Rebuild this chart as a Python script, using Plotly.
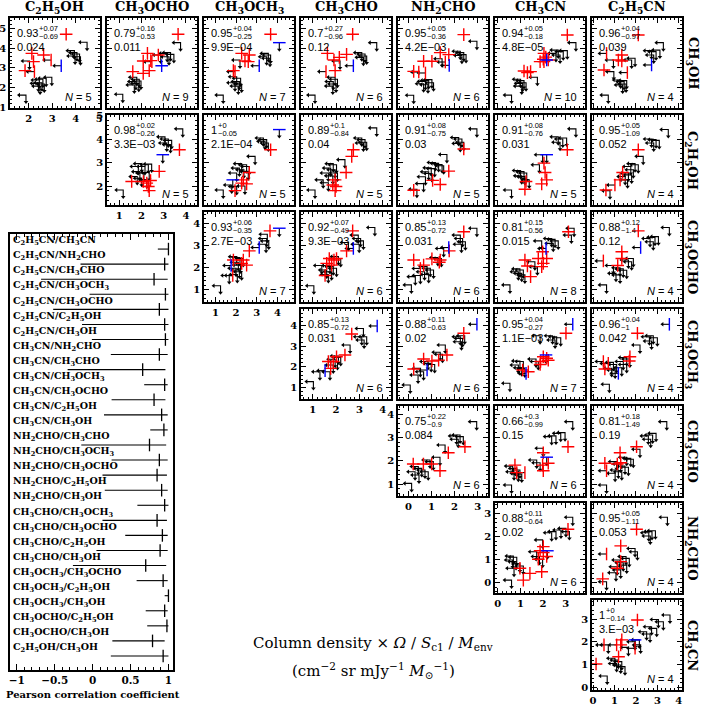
import plotly.graph_objects as go

W, H = 702, 706

# ---------------- species / axes ----------------
ROWS = ['CH3OH', 'C2H5OH', 'CH3OCHO', 'CH3OCH3', 'CH3CHO', 'NH2CHO', 'CH3CN']
COLS = ['C2H5OH', 'CH3OCHO', 'CH3OCH3', 'CH3CHO', 'NH2CHO', 'CH3CN', 'C2H5CN']
LABEL = {
    'CH3OH': 'CH<sub>3</sub>OH', 'C2H5OH': 'C<sub>2</sub>H<sub>5</sub>OH',
    'CH3OCHO': 'CH<sub>3</sub>OCHO', 'CH3OCH3': 'CH<sub>3</sub>OCH<sub>3</sub>',
    'CH3CHO': 'CH<sub>3</sub>CHO', 'NH2CHO': 'NH<sub>2</sub>CHO',
    'CH3CN': 'CH<sub>3</sub>CN', 'C2H5CN': 'C<sub>2</sub>H<sub>5</sub>CN'}
AX_RANGE = {
    'CH3OH': [0.95, 5.55], 'C2H5OH': [1.2, 5.03], 'CH3OCHO': [0.45, 4.5],
    'CH3OCH3': [0.45, 4.8], 'CH3CHO': [0.5, 4.35], 'NH2CHO': [-0.45, 3.45],
    'CH3CN': [-0.12, 3.85], 'C2H5CN': [-0.05, 4.15]}

# ---------------- correlation results (x species / y species) ----------------
PAIR_X = ['C2H5CN'] * 7 + ['CH3CN'] * 6 + ['NH2CHO'] * 5 + ['CH3CHO'] * 4 + ['CH3OCH3'] * 3 + ['CH3OCHO'] * 2 + ['C2H5OH']
PAIR_Y = ['CH3CN', 'NH2CHO', 'CH3CHO', 'CH3OCH3', 'CH3OCHO', 'C2H5OH', 'CH3OH',
          'NH2CHO', 'CH3CHO', 'CH3OCH3', 'CH3OCHO', 'C2H5OH', 'CH3OH',
          'CH3CHO', 'CH3OCH3', 'CH3OCHO', 'C2H5OH', 'CH3OH',
          'CH3OCH3', 'CH3OCHO', 'C2H5OH', 'CH3OH',
          'CH3OCHO', 'C2H5OH', 'CH3OH',
          'C2H5OH', 'CH3OH',
          'CH3OH']
R_VAL = [1, 0.95, 0.81, 0.96, 0.88, 0.95, 0.96,
         0.88, 0.66, 0.95, 0.81, 0.91, 0.94,
         0.75, 0.88, 0.85, 0.91, 0.95,
         0.85, 0.92, 0.89, 0.7,
         0.93, 1, 0.95,
         0.98, 0.79,
         0.93]
R_PLUS = [0, 0.05, 0.18, 0.04, 0.12, 0.05, 0.04,
          0.11, 0.3, 0.04, 0.15, 0.08, 0.05,
          0.22, 0.11, 0.13, 0.08, 0.05,
          0.13, 0.07, 0.1, 0.27,
          0.06, 0, 0.04,
          0.02, 0.16,
          0.07]
R_MINUS = [0.14, 1.11, 1.49, 1, 1.4, 1.09, 0.97,
           0.64, 0.99, 0.27, 0.56, 0.76, 0.18,
           0.9, 0.63, 0.72, 0.75, 0.36,
           0.72, 0.49, 0.84, 0.96,
           0.35, 0.05, 0.25,
           0.26, 0.53,
           0.69]
P_TXT = ['3.E\u221203', '0.053', '0.19', '0.042', '0.12', '0.052', '0.039',
         '0.02', '0.15', '1.1E\u221203', '0.015', '0.031', '4.8E\u221205',
         '0.084', '0.02', '0.031', '0.03', '4.2E\u221203',
         '0.031', '9.3E\u221203', '0.04', '0.12',
         '2.7E\u221203', '2.1E\u221204', '9.9E\u221204',
         '3.3E\u221203', '0.011',
         '0.024']
N_SRC = [4, 4, 4, 4, 4, 4, 4,
         6, 6, 7, 8, 5, 10,
         6, 6, 6, 5, 6,
         6, 6, 5, 6,
         7, 5, 7,
         5, 9,
         5]

# ---------------- scatter points per panel: (x, y, kind) ----------------
# kind: 'ul' both upper limits, 'r'/'b' detections, 'rx'/'bx' x upper limit, 'ry'/'by' y upper limit
PTS_C2H5OH_CH3OH = [(3.59, 4.72, 'r'), (2.13, 3.74, 'r'), (2.2, 3.32, 'r'), (2.63, 3.66, 'r'), (1.84, 2.86, 'r'),
    (2.24, 2.81, 'rx'), (2.95, 3.4, 'rx'), (3.38, 3.11, 'bx'), (4.48, 4.31, 'ul'), (3.94, 3.88, 'ul'), (4.05, 3.78, 'ul'),
    (4.16, 3.71, 'ul'), (3.97, 3.61, 'ul'), (4.2, 3.57, 'ul'), (2.03, 3.35, 'ul'), (2.98, 2.52, 'ul'), (2.45, 2.38, 'ul'),
    (2.6, 2.42, 'ul'), (2.74, 2.47, 'ul'), (2.41, 2.21, 'ul'), (2.56, 2.24, 'ul'), (2.66, 2.18, 'ul'), (2.48, 2.07, 'ul'),
    (1.88, 1.61, 'ul')]
PTS_CH3OCHO_CH3OH = [(3.65, 4.72, 'r'), (2.27, 3.74, 'r'), (2.76, 3.66, 'r'), (2.08, 3.35, 'r'), (2.42, 3.37, 'r'),
    (1.61, 2.81, 'r'), (2.08, 2.72, 'r'), (2.35, 2.86, 'r'), (2.47, 3.32, 'rx'), (2.91, 3.11, 'b'), (3.76, 4.29, 'ul'),
    (3.16, 3.74, 'ul'), (3.31, 3.78, 'ul'), (3.46, 3.69, 'ul'), (3.24, 3.57, 'ul'), (2.87, 3.66, 'ul'), (1.79, 2.52, 'ul'),
    (1.9, 2.42, 'ul'), (1.75, 2.3, 'ul'), (1.88, 2.21, 'ul'), (1.68, 2.13, 'ul'), (1.98, 2.33, 'ul'), (1.16, 1.65, 'ul')]
PTS_CH3OCH3_CH3OH = [(3.67, 4.72, 'r'), (4.09, 4.29, 'by'), (2.27, 3.74, 'r'), (2.64, 3.66, 'r'), (2.43, 3.35, 'r'),
    (2.59, 3.32, 'r'), (1.87, 2.86, 'r'), (1.95, 2.81, 'rx'), (3.12, 3.11, 'bx'), (3.56, 3.74, 'ul'), (3.67, 3.66, 'ul'),
    (3.48, 3.57, 'ul'), (3.64, 3.49, 'ul'), (2.19, 3.4, 'ul'), (2.03, 2.55, 'ul'), (2.22, 2.47, 'ul'), (2.16, 2.3, 'ul'),
    (1.95, 2.24, 'ul'), (2.27, 2.18, 'ul'), (2.11, 2.07, 'ul'), (1.38, 1.61, 'ul')]
PTS_CH3CHO_CH3OH = [(2.71, 4.72, 'r'), (3.74, 4.29, 'ul'), (1.63, 3.74, 'r'), (2.45, 3.69, 'r'), (2.14, 3.54, 'r'),
    (1.91, 3.4, 'r'), (1.96, 2.86, 'r'), (1.57, 2.81, 'rx'), (2.74, 3.11, 'bx'), (3.1, 3.78, 'ul'), (3.24, 3.71, 'ul'),
    (3.17, 3.54, 'ul'), (3.31, 3.61, 'ul'), (2.17, 3.35, 'ul'), (1.96, 2.52, 'ul'), (2.06, 2.42, 'ul'), (1.88, 2.3, 'ul'),
    (2.0, 2.18, 'ul'), (1.86, 2.07, 'ul'), (1.1, 1.61, 'ul')]
PTS_NH2CHO_CH3OH = [(2.4, 4.7, 'r'), (2.97, 4.36, 'ul'), (1.38, 3.78, 'r'), (1.75, 3.68, 'r'), (0.66, 3.34, 'r'),
    (1.02, 3.34, 'r'), (1.6, 3.3, 'rx'), (1.77, 3.13, 'bx'), (0.23, 2.82, 'r'), (0.45, 2.79, 'rx'), (0.74, 2.74, 'rx'),
    (2.25, 3.85, 'ul'), (2.4, 3.78, 'ul'), (2.32, 3.64, 'ul'), (2.5, 3.68, 'ul'), (1.46, 3.47, 'ul'), (0.74, 2.31, 'ul'),
    (0.88, 2.36, 'ul'), (1.02, 2.4, 'ul'), (0.66, 2.19, 'ul'), (0.85, 2.14, 'ul'), (1.09, 2.24, 'ul'), (0.23, 1.6, 'ul')]
PTS_CH3CN_CH3OH = [(3.07, 4.68, 'r'), (3.45, 4.29, 'ul'), (2.67, 3.91, 'ul'), (2.89, 3.83, 'ul'), (3.07, 3.88, 'ul'),
    (2.57, 3.74, 'ul'), (2.75, 3.66, 'ul'), (2.04, 3.74, 'r'), (1.87, 3.32, 'r'), (2.04, 3.32, 'r'), (2.23, 3.4, 'r'),
    (2.01, 3.44, 'r'), (2.12, 3.55, 'r'), (2.16, 3.4, 'b'), (1.16, 2.84, 'r'), (1.31, 2.76, 'r'), (1.45, 2.81, 'r'),
    (1.75, 2.52, 'ul'), (1.01, 2.42, 'ul'), (1.16, 2.35, 'ul'), (1.1, 2.21, 'ul'), (1.25, 2.24, 'ul'), (1.06, 2.07, 'ul'),
    (0.61, 1.61, 'ul')]
PTS_C2H5CN_CH3OH = [(2.11, 4.68, 'r'), (3.28, 4.29, 'ul'), (2.73, 3.88, 'ul'), (2.94, 3.83, 'ul'), (3.12, 3.91, 'ul'),
    (2.83, 3.66, 'ul'), (0.63, 3.74, 'rx'), (1.34, 3.66, 'r'), (1.18, 3.4, 'r'), (1.34, 3.35, 'r'), (0.95, 3.4, 'ul'),
    (1.8, 3.4, 'ul'), (1.96, 3.49, 'ul'), (2.73, 3.15, 'bx'), (0.51, 2.89, 'r'), (1.6, 2.76, 'rx'), (0.97, 2.81, 'ul'),
    (1.29, 2.38, 'ul'), (1.45, 2.3, 'ul'), (1.57, 2.35, 'ul'), (1.38, 2.13, 'ul'), (1.54, 2.18, 'ul'), (0.71, 1.61, 'ul')]

PTS_CH3OCHO_C2H5OH = [(3.86, 4.44, 'ul'), (3.06, 4.1, 'ul'), (3.21, 4.01, 'ul'), (3.36, 3.95, 'ul'), (3.14, 3.84, 'ul'),
    (3.31, 3.77, 'ul'), (3.71, 3.55, 'r'), (2.96, 3.34, 'by'), (2.8, 2.63, 'r'), (2.01, 2.96, 'ul'), (1.86, 2.84, 'ul'),
    (2.16, 2.84, 'ul'), (2.31, 2.91, 'ul'), (2.46, 2.94, 'ul'), (1.93, 2.62, 'ul'), (2.11, 2.56, 'ul'), (2.35, 2.58, 'ul'),
    (1.81, 2.41, 'ul'), (2.01, 2.34, 'ul'), (2.24, 2.27, 'ul'), (1.56, 2.2, 'r'), (2.09, 2.2, 'r'), (2.24, 2.13, 'r'),
    (2.41, 2.24, 'r'), (2.35, 1.81, 'r'), (2.31, 1.99, 'r'), (1.18, 1.84, 'ul')]
PTS_CH3OCH3_C2H5OH = [(4.09, 4.41, 'by'), (3.32, 4.05, 'ul'), (3.48, 3.98, 'ul'), (3.56, 3.84, 'ul'), (3.4, 3.91, 'ul'),
    (3.67, 3.55, 'r'), (2.92, 3.27, 'ul'), (2.64, 2.58, 'r'), (2.27, 2.96, 'ul'), (2.51, 2.91, 'ul'), (2.64, 2.84, 'ul'),
    (2.16, 2.77, 'ul'), (2.38, 2.7, 'ul'), (2.59, 2.62, 'ul'), (2.03, 2.56, 'ul'), (1.84, 2.27, 'by'), (2.35, 2.27, 'r'),
    (2.27, 2.13, 'r'), (2.51, 2.1, 'r'), (1.95, 1.81, 'r'), (1.79, 2.05, 'ul'), (2.03, 1.99, 'ul'), (2.43, 2.01, 'ul'),
    (1.38, 1.84, 'ul')]
PTS_CH3CHO_C2H5OH = [(3.74, 4.48, 'ul'), (3.1, 4.05, 'ul'), (3.24, 3.98, 'ul'), (3.17, 3.84, 'ul'), (3.31, 3.87, 'ul'),
    (2.74, 3.55, 'r'), (2.67, 3.27, 'r'), (2.38, 3.13, 'ul'), (2.43, 2.58, 'r'), (1.88, 2.96, 'ul'), (2.02, 2.91, 'ul'),
    (1.77, 2.77, 'ul'), (1.96, 2.7, 'ul'), (1.67, 2.56, 'ul'), (1.86, 2.44, 'ul'), (2.06, 2.56, 'ul'), (1.96, 2.27, 'r'),
    (1.86, 2.05, 'r'), (2.0, 1.99, 'r'), (1.96, 1.81, 'r'), (1.45, 2.27, 'ul'), (1.67, 2.15, 'ul'), (1.1, 1.84, 'ul')]
PTS_NH2CHO_C2H5OH = [(2.97, 4.44, 'ul'), (2.18, 4.07, 'ul'), (2.32, 4.01, 'ul'), (2.4, 3.87, 'ul'), (2.25, 3.82, 'ul'),
    (2.4, 3.58, 'r'), (1.67, 3.35, 'ul'), (1.75, 2.64, 'r'), (1.17, 3.01, 'ul'), (1.31, 2.97, 'ul'), (1.46, 2.92, 'ul'),
    (1.53, 2.87, 'ul'), (0.99, 2.78, 'ul'), (1.14, 2.75, 'ul'), (0.88, 2.61, 'ul'), (1.02, 2.54, 'ul'), (0.74, 2.4, 'ul'),
    (1.05, 2.25, 'r'), (1.38, 2.07, 'r'), (0.23, 1.83, 'r'), (0.66, 2.11, 'ul'), (0.37, 1.87, 'ul')]
PTS_CH3CN_C2H5OH = [(3.45, 4.44, 'ul'), (2.67, 4.1, 'ul'), (2.87, 4.01, 'ul'), (3.04, 4.05, 'ul'), (2.75, 3.87, 'ul'),
    (3.07, 3.55, 'r'), (1.98, 3.34, 'ul'), (2.16, 3.34, 'by'), (2.04, 2.98, 'r'), (2.09, 2.58, 'r'), (2.16, 2.27, 'r'),
    (1.94, 2.1, 'r'), (1.2, 1.87, 'r'), (1.84, 2.91, 'ul'), (1.01, 2.67, 'ul'), (1.16, 2.62, 'ul'), (1.28, 2.56, 'ul'),
    (1.06, 2.44, 'ul'), (1.2, 2.41, 'ul'), (1.39, 2.27, 'ul'), (1.25, 2.2, 'r'), (0.61, 1.84, 'ul')]
PTS_C2H5CN_C2H5OH = [(3.51, 4.41, 'ul'), (2.73, 4.01, 'ul'), (2.94, 3.98, 'ul'), (3.09, 3.95, 'ul'), (2.83, 3.84, 'ul'),
    (2.11, 3.55, 'r'), (2.34, 3.27, 'ul'), (1.96, 2.96, 'ul'), (2.11, 2.91, 'ul'), (1.76, 2.84, 'ul'), (1.88, 2.7, 'ul'),
    (1.65, 2.56, 'ul'), (1.8, 2.48, 'ul'), (1.5, 2.41, 'ul'), (1.61, 2.27, 'ul'), (1.38, 2.58, 'r'), (1.26, 2.27, 'r'),
    (1.02, 2.05, 'rx'), (0.6, 1.84, 'r'), (0.79, 1.81, 'ul')]

PTS_CH3OCH3_CH3OCHO = [(4.09, 3.77, 'by'), (3.64, 3.65, 'r'), (3.51, 3.5, 'ul'), (3.48, 3.31, 'ul'), (3.58, 3.2, 'ul'),
    (3.45, 3.05, 'ul'), (3.12, 2.9, 'bx'), (2.64, 2.75, 'r'), (2.03, 2.49, 'ul'), (2.19, 2.45, 'ul'), (2.35, 2.41, 'ul'),
    (1.87, 2.34, 'r'), (2.35, 2.34, 'r'), (2.27, 2.19, 'r'), (2.51, 2.11, 'r'), (1.76, 2.09, 'bx'), (1.84, 1.64, 'rx'),
    (2.11, 2.24, 'ul'), (2.22, 2.11, 'ul'), (2.0, 1.97, 'ul'), (2.16, 1.89, 'ul'), (2.27, 1.81, 'ul'), (2.06, 1.69, 'ul'),
    (1.67, 1.64, 'ul'), (1.25, 1.18, 'ul')]
PTS_CH3CHO_CH3OCHO = [(3.66, 3.8, 'ul'), (2.71, 3.65, 'r'), (2.95, 3.46, 'ul'), (3.05, 3.31, 'ul'), (3.17, 3.2, 'ul'),
    (2.99, 3.05, 'ul'), (2.74, 2.86, 'bx'), (2.45, 2.75, 'r'), (2.53, 3.13, 'ul'), (1.71, 2.41, 'r'), (1.91, 2.34, 'r'),
    (2.02, 2.41, 'r'), (1.6, 2.19, 'r'), (1.81, 2.11, 'r'), (1.53, 1.64, 'r'), (2.1, 2.49, 'ul'), (2.2, 2.41, 'ul'),
    (1.74, 2.09, 'ul'), (1.88, 2.04, 'ul'), (2.02, 1.97, 'ul'), (1.6, 1.89, 'ul'), (1.81, 1.81, 'ul'), (1.67, 1.69, 'ul'),
    (1.39, 2.09, 'ul'), (1.05, 1.18, 'ul')]
PTS_NH2CHO_CH3OCHO = [(2.97, 3.77, 'ul'), (2.4, 3.61, 'r'), (2.25, 3.46, 'ul'), (2.35, 3.31, 'ul'), (2.47, 3.16, 'ul'),
    (2.3, 3.05, 'ul'), (1.75, 2.9, 'bx'), (1.77, 2.75, 'r'), (1.53, 2.86, 'ul'), (0.23, 2.34, 'r'), (0.66, 2.11, 'r'),
    (1.02, 2.39, 'r'), (1.38, 2.34, 'r'), (1.34, 2.24, 'r'), (0.52, 1.96, 'rx'), (1.28, 2.45, 'ul'), (1.43, 2.41, 'ul'),
    (0.81, 2.04, 'ul'), (0.95, 1.97, 'ul'), (1.09, 1.89, 'ul'), (0.7, 1.81, 'ul'), (0.88, 1.69, 'ul'), (0.52, 1.64, 'ul'),
    (0.3, 1.59, 'ul'), (0.13, 1.22, 'ul')]
PTS_CH3CN_CH3OCHO = [(3.37, 3.77, 'ul'), (3.12, 3.61, 'r'), (3.25, 3.46, 'ul'), (2.38, 3.31, 'ul'), (2.53, 3.27, 'ul'),
    (2.67, 3.2, 'ul'), (2.45, 3.09, 'ul'), (1.94, 3.2, 'ul'), (2.13, 2.86, 'bx'), (1.98, 2.71, 'r'), (1.79, 2.41, 'r'),
    (2.16, 2.41, 'r'), (2.01, 2.19, 'r'), (1.94, 2.04, 'r'), (1.75, 2.04, 'ul'), (1.64, 2.26, 'ul'), (1.2, 2.34, 'r'),
    (1.31, 2.07, 'r'), (1.45, 1.59, 'r'), (0.98, 1.94, 'ul'), (1.13, 1.89, 'ul'), (0.91, 1.81, 'ul'), (1.06, 1.74, 'ul'),
    (1.2, 1.67, 'ul'), (0.54, 1.22, 'ul')]
PTS_C2H5CN_CH3OCHO = [(3.56, 3.8, 'ul'), (2.11, 3.65, 'r'), (2.66, 3.31, 'ul'), (2.89, 3.36, 'ul'), (3.05, 3.39, 'ul'),
    (2.81, 3.16, 'ul'), (2.22, 2.9, 'bx'), (1.88, 2.41, 'ul'), (1.34, 2.71, 'r'), (1.34, 2.41, 'r'), (0.48, 2.3, 'rx'),
    (1.15, 2.09, 'r'), (1.65, 2.34, 'ul'), (1.8, 2.26, 'ul'), (0.95, 2.09, 'ul'), (1.26, 1.99, 'ul'), (1.41, 1.94, 'ul'),
    (1.57, 1.88, 'ul'), (1.07, 1.74, 'ul'), (1.26, 1.67, 'ul'), (0.63, 1.22, 'ul')]

PTS_CH3CHO_CH3OCH3 = [(3.76, 3.98, 'bx'), (2.67, 3.59, 'r'), (3.17, 3.86, 'ul'), (3.31, 3.46, 'ul'), (3.1, 3.46, 'ul'),
    (3.2, 3.3, 'ul'), (2.6, 3.06, 'ul'), (2.38, 2.58, 'r'), (2.02, 2.49, 'r'), (1.88, 2.26, 'r'), (1.67, 2.26, 'r'),
    (1.77, 1.93, 'r'), (2.1, 2.53, 'ul'), (2.2, 2.46, 'ul'), (1.96, 2.37, 'ul'), (2.06, 2.26, 'ul'), (1.88, 2.09, 'ul'),
    (1.53, 1.82, 'bx'), (1.31, 1.77, 'ul'), (1.74, 1.77, 'ul'), (1.03, 1.29, 'ul')]
PTS_NH2CHO_CH3OCH3 = [(2.97, 4.06, 'bx'), (2.4, 3.63, 'r'), (2.25, 3.46, 'ul'), (2.35, 3.38, 'ul'), (2.44, 3.51, 'ul'),
    (2.3, 3.22, 'ul'), (1.6, 3.06, 'ul'), (1.67, 2.58, 'r'), (1.31, 2.33, 'r'), (1.02, 2.29, 'r'), (0.66, 2.38, 'r'),
    (0.23, 1.9, 'r'), (0.81, 1.85, 'bx'), (1.38, 2.71, 'ul'), (1.48, 2.61, 'ul'), (0.85, 2.26, 'ul'), (0.99, 2.17, 'ul'),
    (1.14, 2.12, 'ul'), (0.52, 1.93, 'ul'), (0.66, 1.77, 'ul'), (0.42, 1.61, 'ul'), (0.08, 1.13, 'ul')]
PTS_CH3CN_CH3OCH3 = [(3.31, 4.06, 'bx'), (3.01, 3.63, 'r'), (2.42, 3.51, 'ul'), (2.6, 3.46, 'ul'), (2.78, 3.41, 'ul'),
    (2.53, 3.3, 'ul'), (1.87, 3.51, 'ul'), (2.01, 2.49, 'r'), (2.16, 2.42, 'r'), (1.89, 2.26, 'r'), (2.23, 2.32, 'r'),
    (1.87, 2.12, 'r'), (2.13, 2.58, 'by'), (1.69, 2.38, 'ul'), (1.79, 2.26, 'ul'), (0.98, 2.29, 'ul'), (1.13, 2.26, 'ul'),
    (0.91, 2.09, 'ul'), (1.06, 1.96, 'ul'), (1.2, 1.9, 'ul'), (1.1, 1.85, 'r'), (1.35, 1.77, 'r'), (1.25, 1.69, 'bx'),
    (0.54, 1.21, 'ul')]
PTS_C2H5CN_CH3OCH3 = [(3.56, 4.06, 'bx'), (2.07, 3.63, 'r'), (2.63, 3.46, 'ul'), (2.81, 3.51, 'ul'), (3.0, 3.41, 'ul'),
    (2.73, 3.25, 'ul'), (2.19, 3.06, 'ul'), (1.72, 2.49, 'r'), (1.69, 2.29, 'r'), (0.55, 1.9, 'r'), (0.48, 2.26, 'rx'),
    (0.71, 2.17, 'rx'), (1.18, 1.69, 'bx'), (1.57, 2.45, 'ul'), (1.72, 2.38, 'ul'), (1.41, 2.26, 'ul'), (1.57, 2.12, 'ul'),
    (0.95, 2.22, 'ul'), (1.1, 2.12, 'ul'), (1.34, 1.96, 'ul'), (1.03, 1.85, 'ul'), (0.87, 1.93, 'ul'), (0.76, 1.16, 'ul')]

PTS_NH2CHO_CH3CHO = [(2.96, 3.68, 'ul'), (2.09, 3.07, 'ul'), (2.24, 3.11, 'ul'), (2.38, 3.04, 'ul'), (2.16, 2.93, 'ul'),
    (2.45, 2.61, 'r'), (1.59, 2.68, 'ul'), (1.73, 2.35, 'r'), (1.37, 2.16, 'ul'), (1.37, 1.58, 'r'), (0.21, 1.87, 'r'),
    (0.65, 1.87, 'r'), (1.01, 1.87, 'r'), (0.94, 2.04, 'ul'), (1.08, 1.97, 'ul'), (0.43, 1.76, 'ul'), (0.58, 1.68, 'ul'),
    (0.72, 1.61, 'ul'), (0.86, 1.54, 'ul'), (0.29, 1.54, 'ul'), (0.46, 1.4, 'ul'), (0.14, 1.04, 'ul')]
PTS_CH3CN_CH3CHO = [(3.31, 3.68, 'ul'), (2.38, 3.04, 'ul'), (2.57, 3.07, 'ul'), (2.78, 3.18, 'ul'), (2.97, 3.21, 'ul'),
    (3.1, 2.61, 'r'), (2.01, 2.54, 'ul'), (2.01, 2.35, 'r'), (2.16, 2.16, 'by'), (2.23, 1.9, 'r'), (2.01, 1.58, 'r'),
    (1.98, 1.82, 'r'), (1.72, 2.04, 'ul'), (1.87, 1.92, 'ul'), (0.76, 1.82, 'r'), (0.84, 1.5, 'r'), (0.66, 1.78, 'ul'),
    (0.84, 1.68, 'ul'), (0.98, 1.61, 'ul'), (0.72, 1.54, 'ul'), (0.91, 1.47, 'ul'), (1.06, 1.44, 'ul'), (1.2, 1.5, 'rx'),
    (0.61, 0.97, 'ul')]
PTS_C2H5CN_CH3CHO = [(3.44, 3.68, 'ul'), (2.58, 3.07, 'ul'), (2.78, 3.11, 'ul'), (2.94, 3.18, 'ul'), (2.69, 2.93, 'ul'),
    (2.03, 2.61, 'r'), (2.19, 2.5, 'ul'), (1.26, 2.35, 'r'), (1.57, 2.16, 'ul'), (1.76, 2.11, 'ul'), (1.88, 2.07, 'ul'),
    (1.1, 1.97, 'ul'), (1.29, 1.87, 'ul'), (1.49, 1.78, 'ul'), (1.65, 1.73, 'ul'), (1.18, 1.61, 'ul'), (1.34, 1.54, 'ul'),
    (1.03, 1.47, 'ul'), (0.55, 1.9, 'r'), (1.13, 1.87, 'r'), (1.29, 1.92, 'r'), (0.63, 1.58, 'rx'), (0.63, 0.97, 'ul')]

PTS_CH3CN_NH2CHO = [(3.31, 2.83, 'ul'), (3.1, 2.31, 'r'), (2.38, 2.16, 'ul'), (2.57, 2.21, 'ul'), (2.79, 2.28, 'ul'),
    (3.01, 2.35, 'ul'), (3.16, 2.21, 'ul'), (1.98, 1.85, 'ul'), (2.01, 1.56, 'r'), (1.87, 1.38, 'r'), (2.01, 1.3, 'r'),
    (2.16, 1.13, 'r'), (1.79, 1.01, 'r'), (1.94, 0.47, 'r'), (2.19, 1.38, 'by'), (1.72, 1.34, 'ul'), (1.84, 1.13, 'ul'),
    (1.98, 1.01, 'ul'), (0.69, 1.15, 'ul'), (0.84, 1.1, 'ul'), (0.66, 0.98, 'ul'), (0.81, 0.91, 'ul'), (0.98, 0.81, 'ul'),
    (1.13, 0.72, 'ul'), (0.72, 0.62, 'ul'), (0.98, 0.62, 'r'), (1.42, 0.4, 'r'), (1.13, 0.11, 'r'), (0.61, 0.11, 'ul')]
PTS_C2H5CN_NH2CHO = [(3.47, 2.83, 'ul'), (2.03, 2.31, 'r'), (2.6, 2.16, 'ul'), (2.75, 2.21, 'ul'), (2.91, 2.25, 'ul'),
    (2.67, 2.02, 'ul'), (1.29, 1.59, 'r'), (1.96, 1.48, 'ul'), (2.07, 1.34, 'ul'), (0.63, 1.24, 'rx'), (1.29, 0.91, 'r'),
    (1.54, 1.13, 'ul'), (1.69, 1.05, 'ul'), (1.26, 0.98, 'ul'), (1.41, 0.86, 'ul'), (1.57, 0.76, 'ul'), (1.13, 0.69, 'ul'),
    (1.29, 0.55, 'ul'), (1.07, 0.43, 'ul'), (1.13, 0.62, 'r'), (0.45, 0.16, 'r'), (0.63, 0.04, 'ul')]

PTS_C2H5CN_CH3CN = [(3.59, 3.19, 'ul'), (3.05, 2.99, 'ul'), (3.28, 2.89, 'ul'), (2.73, 2.67, 'ul'), (2.97, 2.6, 'ul'),
    (2.5, 2.45, 'ul'), (2.66, 2.35, 'ul'), (2.07, 2.97, 'r'), (2.16, 2.09, 'ul'), (1.96, 2.01, 'ul'), (2.22, 1.87, 'ul'),
    (1.96, 2.09, 'by'), (1.34, 2.09, 'r'), (0.51, 1.87, 'rx'), (1.1, 1.87, 'rx'), (1.96, 1.72, 'rx'), (1.29, 1.87, 'r'),
    (0.71, 1.87, 'ul'), (1.65, 1.76, 'ul'), (1.19, 1.35, 'r'), (0.14, 1.03, 'r'), (1.02, 1.28, 'ul'), (1.18, 1.2, 'ul'),
    (1.34, 1.13, 'ul'), (1.1, 1.05, 'ul'), (1.29, 0.98, 'ul'), (1.49, 0.91, 'ul'), (0.66, 0.5, 'ul')]

POINTS = {
    ('C2H5OH', 'CH3OH'): PTS_C2H5OH_CH3OH, ('CH3OCHO', 'CH3OH'): PTS_CH3OCHO_CH3OH,
    ('CH3OCH3', 'CH3OH'): PTS_CH3OCH3_CH3OH, ('CH3CHO', 'CH3OH'): PTS_CH3CHO_CH3OH,
    ('NH2CHO', 'CH3OH'): PTS_NH2CHO_CH3OH, ('CH3CN', 'CH3OH'): PTS_CH3CN_CH3OH,
    ('C2H5CN', 'CH3OH'): PTS_C2H5CN_CH3OH,
    ('CH3OCHO', 'C2H5OH'): PTS_CH3OCHO_C2H5OH, ('CH3OCH3', 'C2H5OH'): PTS_CH3OCH3_C2H5OH,
    ('CH3CHO', 'C2H5OH'): PTS_CH3CHO_C2H5OH, ('NH2CHO', 'C2H5OH'): PTS_NH2CHO_C2H5OH,
    ('CH3CN', 'C2H5OH'): PTS_CH3CN_C2H5OH, ('C2H5CN', 'C2H5OH'): PTS_C2H5CN_C2H5OH,
    ('CH3OCH3', 'CH3OCHO'): PTS_CH3OCH3_CH3OCHO, ('CH3CHO', 'CH3OCHO'): PTS_CH3CHO_CH3OCHO,
    ('NH2CHO', 'CH3OCHO'): PTS_NH2CHO_CH3OCHO, ('CH3CN', 'CH3OCHO'): PTS_CH3CN_CH3OCHO,
    ('C2H5CN', 'CH3OCHO'): PTS_C2H5CN_CH3OCHO,
    ('CH3CHO', 'CH3OCH3'): PTS_CH3CHO_CH3OCH3, ('NH2CHO', 'CH3OCH3'): PTS_NH2CHO_CH3OCH3,
    ('CH3CN', 'CH3OCH3'): PTS_CH3CN_CH3OCH3, ('C2H5CN', 'CH3OCH3'): PTS_C2H5CN_CH3OCH3,
    ('NH2CHO', 'CH3CHO'): PTS_NH2CHO_CH3CHO, ('CH3CN', 'CH3CHO'): PTS_CH3CN_CH3CHO,
    ('C2H5CN', 'CH3CHO'): PTS_C2H5CN_CH3CHO,
    ('CH3CN', 'NH2CHO'): PTS_CH3CN_NH2CHO, ('C2H5CN', 'NH2CHO'): PTS_C2H5CN_NH2CHO,
    ('C2H5CN', 'CH3CN'): PTS_C2H5CN_CH3CN,
}

# ---------------- layout geometry (pixels) ----------------
PX0, PY0, PITCH, PS = 10, 18, 97, 90
LP = dict(x0=10, x1=173, y0=234, y1=670)
ARM = 7  # arrow length in px
RED, BLUE = '#ff0000', '#0000ff'
SERIF = 'DejaVu Serif'
SANS = 'Liberation Sans'


def dom_x(a, b):
    return [a / W, b / W]


def dom_y(a, b):
    return [1 - b / H, 1 - a / H]


def fmt(v):
    return '%g' % v


def text_w(s, size):
    w = 0
    for ch in s:
        w += 0.278 if ch == '.' else 0.556
    return w * size


AXBASE = dict(showline=True, linecolor='black', linewidth=1.6, mirror='allticks', ticks='inside',
              ticklen=5, tickwidth=1.1, tickcolor='black', showgrid=False, zeroline=False, automargin=False,
              tickfont=dict(family=SERIF, size=10, color='black', weight='bold'))

fig = go.Figure()
layout = dict(width=W, height=H, margin=dict(l=0, r=0, t=0, b=0, pad=0, autoexpand=False),
              paper_bgcolor='white', plot_bgcolor='white', showlegend=False,
              font=dict(family=SERIF, color='black'))
ann = []

# ---------------- left panel: Pearson coefficients ----------------
pair_labels = [LABEL[a] + '/' + LABEL[b] for a, b in zip(PAIR_X, PAIR_Y)]
idx = list(range(len(R_VAL)))
layout['xaxis'] = dict(AXBASE, domain=dom_x(LP['x0'], LP['x1']), anchor='y', range=[-1.09, 1.06],
                       dtick=0.5, tick0=0, ticklen=6,
                       minor=dict(ticks='inside', ticklen=3, dtick=0.1, tickwidth=1, tickcolor='black'),
                       tickfont=dict(family=SERIF, size=10.5, color='black', weight='bold'))
layout['yaxis'] = dict(domain=dom_y(LP['y0'], LP['y1']), anchor='x', range=[27.93, -1], showline=True,
                       linecolor='black', linewidth=1.6, mirror=True, ticks='', showticklabels=False,
                       showgrid=False, zeroline=False, automargin=False)
ann.append(dict(x=93 / W, y=1 - 694 / H, xref='paper', yref='paper', text='Pearson correlation coefficient',
                showarrow=False, xanchor='center', yanchor='middle', borderpad=0,
                font=dict(family=SERIF, size=10, color='black', weight='bold')))
fig.add_trace(go.Scatter(x=R_VAL, y=idx, mode='markers', xaxis='x', yaxis='y',
                         marker=dict(symbol='line-ns', size=9, line=dict(width=1.3, color='black')),
                         error_x=dict(type='data', symmetric=False, array=R_PLUS, arrayminus=R_MINUS,
                                      width=0, thickness=1.1, color='black')))
for i, lab in enumerate(pair_labels):
    ann.append(dict(x=-1.06, y=i - 0.55, xref='x', yref='y', text=lab, showarrow=False, xanchor='left',
                    yanchor='middle', borderpad=0,
                    font=dict(family=SERIF, size=9.5, color='black', weight='bold')))

# ---------------- triangle of scatter panels ----------------
k = 2
for ri, rs in enumerate(ROWS):
    for ci, cs in enumerate(COLS):
        if ci < ri:
            continue
        x0 = PX0 + PITCH * ci
        y0 = PY0 + PITCH * ri
        xr, yr = AX_RANGE[cs], AX_RANGE[rs]
        diag = (ci == ri)
        layout['xaxis%d' % k] = dict(AXBASE, domain=dom_x(x0, x0 + PS), anchor='y%d' % k, range=xr,
                                     dtick=1, tick0=0, showticklabels=diag,
                                     minor=dict(ticks='inside', ticklen=2.5, dtick=0.2, tickwidth=1, tickcolor='black'))
        layout['yaxis%d' % k] = dict(AXBASE, domain=dom_y(y0, y0 + PS), anchor='x%d' % k, range=yr,
                                     dtick=1, tick0=0, showticklabels=diag,
                                     minor=dict(ticks='inside', ticklen=2.5, dtick=0.2, tickwidth=1, tickcolor='black'))
        xa, ya = 'x%d' % k, 'y%d' % k
        dx = ARM * (xr[1] - xr[0]) / PS
        dy = ARM * (yr[1] - yr[0]) / PS
        pts = POINTS[(cs, rs)]
        lx, ly, hlx, hly, hdx, hdy = [], [], [], [], [], []
        for (x, y, kind) in pts:
            if kind == 'ul':
                lx += [x - dx, x, x, None]; ly += [y, y, y - dy, None]
                hlx.append(x - dx); hly.append(y); hdx.append(x); hdy.append(y - dy)
            elif kind in ('rx', 'bx'):
                lx += [x - dx, x, None]; ly += [y, y, None]
                hlx.append(x - dx); hly.append(y)
            elif kind in ('ry', 'by'):
                lx += [x, x, None]; ly += [y, y - dy, None]
                hdx.append(x); hdy.append(y - dy)
        fig.add_trace(go.Scatter(x=lx, y=ly, mode='lines', xaxis=xa, yaxis=ya,
                                 line=dict(color='black', width=1.1)))
        fig.add_trace(go.Scatter(x=hlx, y=hly, mode='markers', xaxis=xa, yaxis=ya,
                                 marker=dict(symbol='triangle-left', size=4, color='black')))
        fig.add_trace(go.Scatter(x=hdx, y=hdy, mode='markers', xaxis=xa, yaxis=ya,
                                 marker=dict(symbol='triangle-down', size=4, color='black')))
        for kinds, sym, col in [(('r',), 'cross-thin', RED), (('b',), 'cross-thin', BLUE),
                                (('rx',), 'line-ns', RED), (('bx',), 'line-ns', BLUE),
                                (('ry',), 'line-ew', RED), (('by',), 'line-ew', BLUE)]:
            sx = [p[0] for p in pts if p[2] in kinds]
            sy = [p[1] for p in pts if p[2] in kinds]
            if sx:
                fig.add_trace(go.Scatter(x=sx, y=sy, mode='markers', xaxis=xa, yaxis=ya,
                                         marker=dict(symbol=sym, size=9, line=dict(width=1.4, color=col))))
        # annotations: correlation text
        j = [n for n in range(len(PAIR_X)) if PAIR_X[n] == cs and PAIR_Y[n] == rs][0]
        main = fmt(R_VAL[j])
        tx = x0 + 6
        ann.append(dict(x=tx / W, y=1 - (y0 + 15) / H, xref='paper', yref='paper', text=main,
                        showarrow=False, xanchor='left', yanchor='middle', borderpad=0,
                        font=dict(family=SANS, size=11, color='black')))
        sx0 = tx + text_w(main, 11) + 1
        ann.append(dict(x=sx0 / W, y=1 - (y0 + 10.5) / H, xref='paper', yref='paper',
                        text='+' + fmt(R_PLUS[j]), showarrow=False, xanchor='left', yanchor='middle', borderpad=0,
                        font=dict(family=SANS, size=7.5, color='black')))
        ann.append(dict(x=sx0 / W, y=1 - (y0 + 18.5) / H, xref='paper', yref='paper',
                        text='\u2212' + fmt(R_MINUS[j]), showarrow=False, xanchor='left', yanchor='middle',
                        borderpad=0, font=dict(family=SANS, size=7.5, color='black')))
        ann.append(dict(x=tx / W, y=1 - (y0 + 29) / H, xref='paper', yref='paper', text=P_TXT[j],
                        showarrow=False, xanchor='left', yanchor='middle', borderpad=0,
                        font=dict(family=SANS, size=11, color='black')))
        ann.append(dict(x=(x0 + 83) / W, y=1 - (y0 + 79) / H, xref='paper', yref='paper',
                        text='<i>N</i> = %d' % N_SRC[j], showarrow=False, xanchor='right', yanchor='middle',
                        borderpad=0, font=dict(family=SANS, size=11, color='black')))
        k += 1

# column titles and row labels
for ci, cs in enumerate(COLS):
    ann.append(dict(x=(PX0 + PITCH * ci + PS / 2) / W, y=1 - 8 / H, xref='paper', yref='paper',
                    text=LABEL[cs], showarrow=False, xanchor='center', yanchor='middle',
                    font=dict(family=SERIF, size=13, color='black', weight='bold')))
for ri, rs in enumerate(ROWS):
    ann.append(dict(x=692 / W, y=1 - (PY0 + PITCH * ri + PS / 2) / H, xref='paper', yref='paper',
                    text=LABEL[rs], showarrow=False, xanchor='center', yanchor='middle', textangle=90,
                    font=dict(family=SERIF, size=13, color='black', weight='bold')))

# common axis title
ann.append(dict(x=373 / W, y=1 - 643 / H, xref='paper', yref='paper', showarrow=False,
                xanchor='center', yanchor='middle', borderpad=0,
                text='Column density \u00d7 <i>\u03a9</i> / <i>S</i><sub>c1</sub> / <i>M</i><sub>env</sub>',
                font=dict(family=SERIF, size=15, color='black')))
ann.append(dict(x=374 / W, y=1 - 670 / H, xref='paper', yref='paper', showarrow=False,
                xanchor='center', yanchor='middle', borderpad=0,
                text='(cm<sup>\u22122</sup> sr mJy<sup>\u22121</sup> <i>M</i><sub>\u2299</sub><sup>\u22121</sup>)',
                font=dict(family=SERIF, size=15, color='black')))

layout['annotations'] = ann
fig.update_layout(**layout)
fig.write_html('out.html', config={'displayModeBar': False},
               post_script="document.body.style.margin='0';document.body.style.overflow='hidden';")
